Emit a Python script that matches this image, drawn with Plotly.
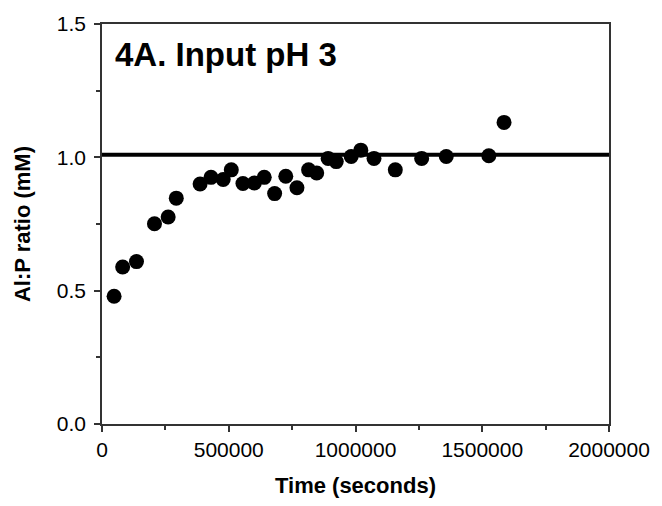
import plotly.graph_objects as go

# Data
time_s = [47700, 81500, 136000, 207000, 261000, 293000, 387000, 430000, 478000,
          510000, 556000, 601000, 640000, 681000, 725000, 769000, 815000, 847000,
          892000, 924000, 983000, 1021000, 1073000, 1157000, 1261000, 1358000,
          1526000, 1586000]
ratio = [0.479, 0.589, 0.609, 0.751, 0.776, 0.847, 0.900, 0.925, 0.917,
         0.953, 0.902, 0.904, 0.925, 0.864, 0.929, 0.886, 0.953, 0.941,
         0.996, 0.984, 1.003, 1.027, 0.996, 0.953, 0.996, 1.003,
         1.006, 1.131]
ref_level = 1.01

x_tickvals = [0, 500000, 1000000, 1500000, 2000000]
x_ticktext = ["0", "500000", "1000000", "1500000", "2000000"]
y_tickvals = [0.0, 0.5, 1.0, 1.5]
y_ticktext = ["0.0", "0.5", "1.0", "1.5"]

title_text = "4A. Input pH 3"
x_title = "Time (seconds)"
y_title = "Al:P ratio (mM)"

FONT = "Liberation Sans, Arial, sans-serif"
AXIS_COLOR = "#333333"

fig = go.Figure()
fig.add_hline(y=ref_level, line=dict(color="black", width=4), layer="below")
fig.add_trace(go.Scatter(
    x=time_s, y=ratio, mode="markers",
    marker=dict(color="black", size=15, line=dict(width=0)),
    showlegend=False, hoverinfo="skip",
))

fig.update_layout(
    width=662, height=506,
    margin=dict(l=102, r=45, t=23, b=75),
    paper_bgcolor="white", plot_bgcolor="white",
    font=dict(family=FONT, color="black"),
    showlegend=False,
)

fig.update_xaxes(
    range=[0, 2000000],
    tickvals=x_tickvals, ticktext=x_ticktext,
    tickfont=dict(size=21, family=FONT, color="black"),
    ticks="outside", ticklen=6, tickwidth=1.5, tickcolor=AXIS_COLOR,
    minor=dict(ticks="outside", ticklen=4, tickwidth=1.5, tickcolor=AXIS_COLOR,
               dtick=250000, tick0=0, showgrid=False),
    showline=True, linecolor=AXIS_COLOR, linewidth=1.5, mirror=True,
    showgrid=False, zeroline=False,
    title=dict(text="<b>" + x_title + "</b>", font=dict(size=22, family=FONT), standoff=18),
)
fig.update_yaxes(
    range=[0, 1.5],
    tickvals=y_tickvals, ticktext=y_ticktext,
    tickfont=dict(size=21, family=FONT, color="black"),
    ticks="outside", ticklen=6, tickwidth=1.5, tickcolor=AXIS_COLOR,
    ticklabelstandoff=4,
    minor=dict(ticks="outside", ticklen=4, tickwidth=1.5, tickcolor=AXIS_COLOR,
               dtick=0.25, tick0=0, showgrid=False),
    showline=True, linecolor=AXIS_COLOR, linewidth=1.5, mirror=True,
    showgrid=False, zeroline=False,
    title=dict(text="<b>" + y_title + "</b>", font=dict(size=22, family=FONT), standoff=20),
)

fig.add_annotation(
    text="<b>" + title_text + "</b>",
    xref="x domain", yref="y domain", x=0.022, y=0.923,
    xanchor="left", yanchor="middle", showarrow=False,
    font=dict(size=33, family=FONT, color="black"),
)

fig.write_html("out.html", config={"displayModeBar": False},
               post_script="document.body.style.margin='0';")
